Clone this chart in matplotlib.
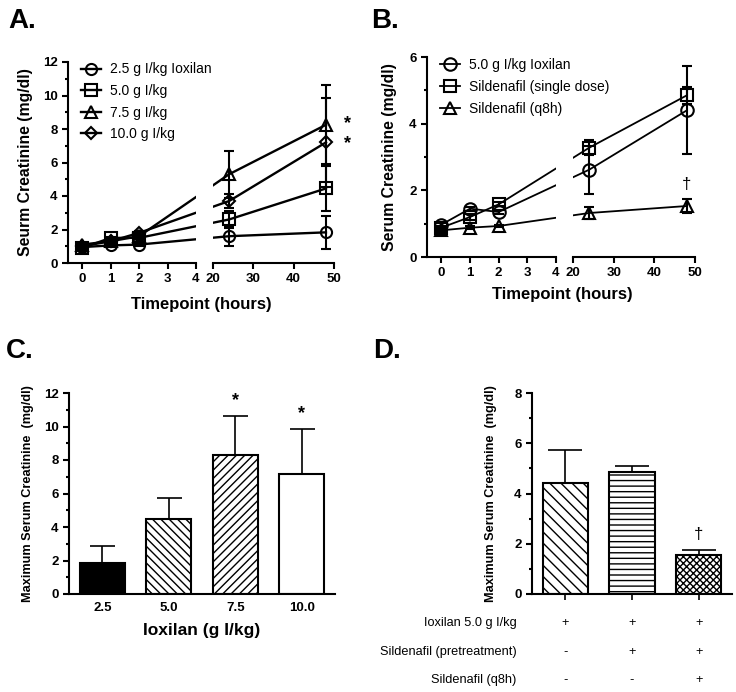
import matplotlib.pyplot as plt
import numpy as np
from matplotlib.lines import Line2D

plt.rcParams['font.family'] = ['Liberation Sans', 'DejaVu Sans']
plt.rcParams['hatch.linewidth'] = 1.0
plt.rcParams['axes.linewidth'] = 1.5

hours = [0, 1, 2, 24, 48]

# panel A: dose response over time
a_labels = ['2.5 g I/kg Ioxilan', '5.0 g I/kg', '7.5 g I/kg', '10.0 g I/kg']
a_mean = [
    [0.95, 1.05, 1.1, 1.6, 1.83],
    [0.9, 1.5, 1.5, 2.6, 4.45],
    [1.1, 1.3, 1.6, 5.3, 8.25],
    [1.0, 1.3, 1.8, 3.7, 7.2],
]
a_err = [
    [0.1, 0.06, 0.06, 0.6, 1.0],
    [0.06, 0.06, 0.06, 0.5, 1.35],
    [0.1, 0.06, 0.06, 1.4, 2.35],
    [0.1, 0.06, 0.1, 0.4, 2.65],
]

# panel B: sildenafil
b_labels = ['5.0 g I/kg Ioxilan', 'Sildenafil (single dose)', 'Sildenafil (q8h)']
b_mean = [
    [0.97, 1.45, 1.35, 2.62, 4.4],
    [0.88, 1.2, 1.58, 3.28, 4.85],
    [0.8, 0.88, 0.93, 1.32, 1.53],
]
b_err = [
    [0.06, 0.06, 0.06, 0.72, 1.32],
    [0.06, 0.08, 0.06, 0.22, 0.25],
    [0.04, 0.04, 0.04, 0.17, 0.2],
]

# panel C: maximum creatinine per dose
c_doses = ['2.5', '5.0', '7.5', '10.0']
c_max = [1.85, 4.45, 8.28, 7.18]
c_err = [1.0, 1.3, 2.32, 2.67]

# panel D: maximum creatinine per treatment
d_max = [4.42, 4.84, 1.55]
d_err = [1.32, 0.26, 0.2]
d_rows = ['Ioxilan 5.0 g I/kg', 'Sildenafil (pretreatment)', 'Sildenafil (q8h)']
d_signs = [['+', '+', '+'], ['-', '+', '+'], ['-', '-', '+']]

W, H = 736, 692


def fx(px):
    return px / W


def fy(py):
    return 1 - py / H


def broken_axes(fig, x0, x1, x2, x3, ytop, ybot):
    """two axes sharing a piecewise x scale: [-0.5, 4] and [20, 50]"""
    sl = (x1 - x0) / 4.5
    sr = (x3 - x2) / 30.0
    k = sr / sl
    gap = (x2 - x1) / sl

    def fwd(x):
        x = np.asarray(x, float)
        return np.where(x <= 4, x,
                        np.where(x >= 20, 4 + gap + (x - 20) * k,
                                 4 + (x - 4) * gap / 16))

    def inv(u):
        u = np.asarray(u, float)
        return np.where(u <= 4, u,
                        np.where(u >= 4 + gap, 20 + (u - 4 - gap) / k,
                                 4 + (u - 4) * 16 / gap))

    axl = fig.add_axes([fx(x0), fy(ybot), fx(x1 - x0), fy(ytop) - fy(ybot)])
    axr = fig.add_axes([fx(x2), fy(ybot), fx(x3 - x2), fy(ytop) - fy(ybot)],
                       sharey=axl)
    for ax in (axl, axr):
        ax.set_xscale('function', functions=(fwd, inv))
        ax.spines['top'].set_visible(False)
        ax.spines['right'].set_visible(False)
        ax.patch.set_alpha(0)
        ax.tick_params(direction='out', width=1.5, length=4, labelsize=9.5)
        ax.tick_params(which='minor', direction='out', width=1.5, length=2.5)
    axl.set_xlim(-0.5, 4)
    axr.set_xlim(20, 50)
    axl.set_xticks([0, 1, 2, 3, 4])
    axl.set_xticklabels(['0', '1', '2', '3', '4'])
    axr.set_xticks([20, 30, 40, 50])
    axr.set_xticklabels(['20', '30', '40', '50'])
    axr.spines['left'].set_visible(False)
    axr.tick_params(axis='y', left=False, labelleft=False, which='both')
    for ax in (axl, axr):
        for lab in ax.get_xticklabels() + ax.get_yticklabels():
            lab.set_fontweight('bold')
    return axl, axr


fig = plt.figure(figsize=(7.36, 6.92), dpi=100)

# ---------------- A ----------------
markersA = ['o', 's', '^', 'D']
msA = [8, 8, 8, 6.5]
axl, axr = broken_axes(fig, 68, 196, 213, 334, 62, 263)
for i in range(4):
    for ax in (axl, axr):
        ax.errorbar(hours, a_mean[i], yerr=a_err[i], color='k', lw=1.7,
                    elinewidth=1.5, capsize=3.6, capthick=1.5,
                    marker=markersA[i], ms=msA[i], mfc='none', mec='k', mew=1.5)
axl.set_ylim(0, 12)
axl.set_yticks(range(0, 13, 2))
axl.set_yticks(range(1, 12, 2), minor=True)
for lab in axl.get_yticklabels():
    lab.set_fontweight('bold')
axl.set_ylabel('Seurm Creatinine (mg/dl)', fontsize=11.3, fontweight='bold')
axl.yaxis.set_label_coords(-0.27, 0.5)
handles = [Line2D([], [], color='k', lw=1.7, marker=markersA[i], ms=msA[i],
                  mfc='none', mec='k', mew=1.5) for i in range(4)]
axl.legend(handles, a_labels, loc='upper left', bbox_to_anchor=(0.0, 1.06),
           frameon=False, fontsize=10, handlelength=1.5, handletextpad=0.6,
           labelspacing=0.55)
axr.text(53.3, 8.35, '*', fontsize=13, fontweight='bold', ha='center', va='center',
         clip_on=False)
axr.text(53.3, 7.1, '*', fontsize=13, fontweight='bold', ha='center', va='center',
         clip_on=False)
fig.text(fx(201), fy(304), 'Timepoint (hours)', fontsize=12, fontweight='bold',
         ha='center', va='center')
fig.text(fx(8), fy(8), 'A.', fontsize=20, fontweight='bold', ha='left', va='top')

# ---------------- B ----------------
markersB = ['o', 's', '^']
axl, axr = broken_axes(fig, 427, 556, 573, 695, 57, 257)
for i in range(3):
    for ax in (axl, axr):
        ax.errorbar(hours, b_mean[i], yerr=b_err[i], color='k', lw=1.3,
                    elinewidth=1.5, capsize=3.6, capthick=1.5,
                    marker=markersB[i], ms=9, mfc='none', mec='k', mew=1.5)
axl.set_ylim(0, 6)
axl.set_yticks(range(0, 7, 2))
axl.set_yticks(range(1, 6, 2), minor=True)
for lab in axl.get_yticklabels():
    lab.set_fontweight('bold')
axl.set_ylabel('Serum Creatinine (mg/dl)', fontsize=11.3, fontweight='bold')
axl.yaxis.set_label_coords(-0.23, 0.5)
handles = [Line2D([], [], color='k', lw=1.3, marker=markersB[i], ms=9,
                  mfc='none', mec='k', mew=1.5) for i in range(3)]
axl.legend(handles, b_labels, loc='upper left', bbox_to_anchor=(0.0, 1.06),
           frameon=False, fontsize=10, handlelength=1.5, handletextpad=0.6,
           labelspacing=0.6)
axr.text(48, 2.16, '\u2020', fontsize=12, ha='center', va='center')
fig.text(fx(562), fy(295), 'Timepoint (hours)', fontsize=12, fontweight='bold',
         ha='center', va='center')
fig.text(fx(371), fy(8), 'B.', fontsize=20, fontweight='bold', ha='left', va='top')

# ---------------- C ----------------
axc = fig.add_axes([fx(69), fy(594), fx(335 - 69), fy(393) - fy(594)])
c_face = ['black', 'white', 'white', 'white']
c_hatch = [None, '\\\\\\\\', '////', None]
xc = np.arange(len(c_doses))
axc.bar(xc, c_max, width=0.68, color=c_face, edgecolor='k', linewidth=1.5,
        hatch=c_hatch, zorder=2)
axc.errorbar(xc, c_max, yerr=[np.zeros(4), c_err], fmt='none', ecolor='k',
             elinewidth=1.2, capsize=9, capthick=1.2, zorder=1)
axc.set_xlim(-0.5, 3.5)
axc.set_ylim(0, 12)
axc.set_xticks(xc)
axc.set_xticklabels(c_doses, fontweight='bold')
axc.set_yticks(range(0, 13, 2))
axc.set_yticks(range(1, 12, 2), minor=True)
for lab in axc.get_yticklabels():
    lab.set_fontweight('bold')
axc.tick_params(axis='x', length=0, pad=6, labelsize=9.5)
axc.tick_params(axis='y', direction='out', width=1.5, length=4, labelsize=9.5)
axc.tick_params(axis='y', which='minor', direction='out', width=1.5, length=2.5)
axc.spines['top'].set_visible(False)
axc.spines['right'].set_visible(False)
axc.set_ylabel('Maximum Serum Creatinine  (mg/dl)', fontsize=9.2, fontweight='bold')
axc.yaxis.set_label_coords(-0.13, 0.5)
axc.set_xlabel('Ioxilan (g I/kg)', fontsize=12.5, fontweight='bold', labelpad=6)
axc.text(2, 11.55, '*', fontsize=13, fontweight='bold', ha='center', va='center')
axc.text(3, 10.8, '*', fontsize=13, fontweight='bold', ha='center', va='center')
fig.text(fx(6), fy(338), 'C.', fontsize=20, fontweight='bold', ha='left', va='top')

# ---------------- D ----------------
axd = fig.add_axes([fx(532), fy(594), fx(732 - 532), fy(393) - fy(594)])
d_hatch = ['\\\\\\', '---', 'xxxxx']
xd = np.arange(len(d_max))
axd.bar(xd, d_max, width=0.68, color='white', edgecolor='k', linewidth=1.5,
        hatch=d_hatch, zorder=2)
axd.errorbar(xd, d_max, yerr=[np.zeros(3), d_err], fmt='none', ecolor='k',
             elinewidth=1.2, capsize=12, capthick=1.2, zorder=1)
axd.set_xlim(-0.5, 2.5)
axd.set_ylim(0, 8)
axd.set_xticks(xd)
axd.set_xticklabels([])
axd.set_yticks(range(0, 9, 2))
axd.set_yticks(range(1, 8, 2), minor=True)
for lab in axd.get_yticklabels():
    lab.set_fontweight('bold')
axd.tick_params(axis='x', direction='out', width=1.2, length=4)
axd.tick_params(axis='y', direction='out', width=1.5, length=4, labelsize=9.5)
axd.tick_params(axis='y', which='minor', direction='out', width=1.5, length=2.5)
axd.spines['top'].set_visible(False)
axd.spines['right'].set_visible(False)
axd.set_ylabel('Maximum Serum Creatinine  (mg/dl)', fontsize=9.2, fontweight='bold')
axd.yaxis.set_label_coords(-0.175, 0.5)
axd.text(2, 2.35, '\u2020', fontsize=12, ha='center', va='center')
row_y = [-0.144, -0.289, -0.428]
for r in range(3):
    axd.text(-0.73, row_y[r], d_rows[r], fontsize=9.2, ha='right', va='center',
             transform=axd.get_xaxis_transform())
    for c in range(3):
        axd.text(xd[c], row_y[r], d_signs[r][c], fontsize=9.2, ha='center',
                 va='center', transform=axd.get_xaxis_transform())
fig.text(fx(373), fy(338), 'D.', fontsize=20, fontweight='bold', ha='left', va='top')

fig.savefig('out.png', dpi=100)
